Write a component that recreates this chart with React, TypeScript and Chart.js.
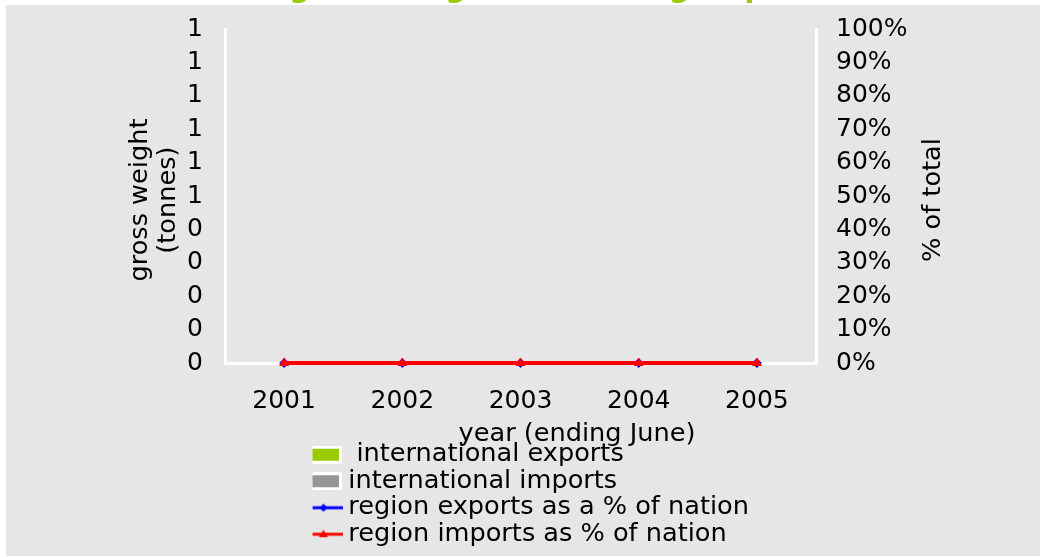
import React, { useEffect, useRef } from 'react';
import { Chart, registerables } from 'chart.js';

Chart.register(...registerables);

const years = ['2001', '2002', '2003', '2004', '2005'];
const intlExports = [0, 0, 0, 0, 0];
const intlImports = [0, 0, 0, 0, 0];
const regionExportsPct = [0, 0, 0, 0, 0];
const regionImportsPct = [0, 0, 0, 0, 0];
const leftTickLabels = ['0', '0', '0', '0', '0', '1', '1', '1', '1', '1', '1'];
const rightTickLabels = ['0%', '10%', '20%', '30%', '40%', '50%', '60%', '70%', '80%', '90%', '100%'];
const seriesNames = [
  ' international exports',
  'international imports',
  'region exports as a % of nation',
  'region imports as % of nation',
];
const chartTitle = 'Trade: gross weight and total group';
const leftAxisTitle = ['gross weight ', '(tonnes) '];
const rightAxisTitle = '% of total';
const xAxisTitle = 'year (ending June)';

const FONT = '"DejaVu Sans", Verdana, sans-serif';
const GREEN = '#99cc00';
const GREY = '#969696';
const BLUE = '#0000ff';
const RED = '#ff0000';
const BG = '#e6e6e6';

function boxIcon(color: string) {
  const c = document.createElement('canvas');
  c.width = 35;
  c.height = 18;
  const g = c.getContext('2d')!;
  g.fillStyle = '#ffffff';
  g.fillRect(0, 0, 35, 18);
  g.fillStyle = color;
  g.fillRect(3, 3, 29, 12);
  return c;
}

function lineIcon(color: string, shape: 'diamond' | 'triangle') {
  const c = document.createElement('canvas');
  c.width = 36;
  c.height = 12;
  const g = c.getContext('2d')!;
  g.strokeStyle = color;
  g.lineWidth = 3;
  g.beginPath();
  g.moveTo(0, 6);
  g.lineTo(36, 6);
  g.stroke();
  g.fillStyle = color;
  g.beginPath();
  if (shape === 'diamond') {
    g.moveTo(17, 2);
    g.lineTo(21, 6);
    g.lineTo(17, 10);
    g.lineTo(13, 6);
  } else {
    g.moveTo(17, 1.5);
    g.lineTo(21.5, 9);
    g.lineTo(12.5, 9);
  }
  g.closePath();
  g.fill();
  return c;
}

const decorPlugin = {
  id: 'decor',
  beforeDraw(chart: any) {
    const ctx = chart.ctx;
    ctx.save();
    ctx.fillStyle = '#ffffff';
    ctx.fillRect(0, 0, chart.width, chart.height);
    ctx.fillStyle = BG;
    ctx.fillRect(6, 5, chart.width - 6, chart.height - 6);
    ctx.fillStyle = GREEN;
    ctx.font = `bold 29px ${FONT}`;
    ctx.textAlign = 'center';
    ctx.textBaseline = 'alphabetic';
    ctx.fillText(chartTitle, 471, -3);
    ctx.restore();
  },
  afterDraw(chart: any) {
    const ctx = chart.ctx;
    ctx.save();
    ctx.fillStyle = '#000000';
    ctx.font = `25.6px ${FONT}`;
    ctx.textAlign = 'center';
    ctx.textBaseline = 'middle';
    ctx.fillText(xAxisTitle, 577, 434.5);
    ctx.translate(933.5, 200);
    ctx.rotate(-Math.PI / 2);
    ctx.fillText(rightAxisTitle, 0, 0);
    ctx.restore();
  },
};

const legendShiftPlugin = {
  id: 'legendShift',
  afterLayout(chart: any) {
    const lg = chart.legend;
    if (!lg) return;
    lg.left = 312.6;
    lg.width = 460;
    lg.right = lg.left + lg.width;
  },
};

const noPad = (s: any) => {
  s.paddingTop = 0;
  s.paddingBottom = 0;
};

export default function App() {
  const ref = useRef<HTMLCanvasElement>(null);

  useEffect(() => {
    const canvas = ref.current!;
    const icons = [boxIcon(GREEN), boxIcon(GREY), lineIcon(BLUE, 'diamond'), lineIcon(RED, 'triangle')];
    const tickFont = { family: FONT, size: 25 };

    const chart = new Chart(canvas, {
      type: 'bar',
      data: {
        labels: years,
        datasets: [
          { type: 'bar', label: seriesNames[0], data: intlExports, backgroundColor: GREEN, yAxisID: 'y', order: 3 },
          { type: 'bar', label: seriesNames[1], data: intlImports, backgroundColor: GREY, yAxisID: 'y', order: 2 },
          {
            type: 'line', label: seriesNames[2], data: regionExportsPct, borderColor: BLUE, backgroundColor: BLUE,
            borderWidth: 3, pointStyle: 'rectRot', pointRadius: 5, pointBorderWidth: 0, yAxisID: 'y2', order: 1, clip: false,
          },
          {
            type: 'line', label: seriesNames[3], data: regionImportsPct, borderColor: RED, backgroundColor: RED,
            borderWidth: 4, pointStyle: 'triangle', pointRadius: 5, pointBorderWidth: 1, yAxisID: 'y2', order: 0, clip: false,
          },
        ] as any,
      },
      options: {
        responsive: false,
        animation: false,
        devicePixelRatio: 1,
        events: [],
        layout: { padding: { left: 110, top: 29, right: 0, bottom: 0 } },
        plugins: {
          title: { display: false },
          tooltip: { enabled: false },
          legend: {
            display: true,
            position: 'bottom',
            align: 'start',
            fullSize: false,
            labels: {
              color: '#000000',
              font: { family: FONT, size: 25.6 },
              padding: 0.9,
              usePointStyle: true,
              pointStyleWidth: 22,
              generateLabels: () =>
                seriesNames.map((name, i) => ({
                  text: name,
                  pointStyle: icons[i] as any,
                  fillStyle: 'rgba(0,0,0,0)',
                  strokeStyle: 'rgba(0,0,0,0)',
                  lineWidth: 0,
                  fontColor: '#000000',
                  hidden: false,
                  datasetIndex: i,
                })),
            },
          },
        },
        scales: {
          x: {
            type: 'category',
            offset: true,
            grid: { drawOnChartArea: false, drawTicks: false },
            border: { display: true, color: '#ffffff', width: 3 },
            ticks: { color: '#000000', font: tickFont, padding: 23, maxRotation: 0, autoSkip: false },
            afterFit: (s: any) => { s.height = 78; },
          },
          y: {
            type: 'linear',
            position: 'left',
            min: 0,
            max: 1,
            grid: { drawOnChartArea: false, drawTicks: false },
            border: { display: true, color: '#ffffff', width: 3 },
            ticks: {
              stepSize: 0.1,
              autoSkip: false,
              color: '#000000',
              font: tickFont,
              padding: 22,
              callback: (_v: any, i: number) => leftTickLabels[i],
            },
            title: {
              display: true,
              text: leftAxisTitle,
              color: '#000000',
              font: { family: FONT, size: 25.6, lineHeight: 1.12 },
              padding: { top: 15.6, bottom: 0 },
            },
            afterFit: (s: any) => { s.width = 115; noPad(s); },
          },
          y2: {
            type: 'linear',
            position: 'right',
            min: 0,
            max: 100,
            grid: { drawOnChartArea: false, drawTicks: false },
            border: { display: true, color: '#ffffff', width: 3 },
            ticks: {
              stepSize: 10,
              autoSkip: false,
              color: '#000000',
              font: tickFont,
              padding: 20,
              callback: (_v: any, i: number) => rightTickLabels[i],
            },
            afterFit: (s: any) => { s.width = 224; noPad(s); },
          },
        },
      } as any,
      plugins: [decorPlugin, legendShiftPlugin],
    });

    return () => chart.destroy();
  }, []);

  return (
    <div style={{ position: 'fixed', left: 0, top: 0, width: 1040, height: 557, overflow: 'hidden', background: '#fff' }}>
      <canvas ref={ref} width={1040} height={557} style={{ display: 'block' }} />
    </div>
  );
}
